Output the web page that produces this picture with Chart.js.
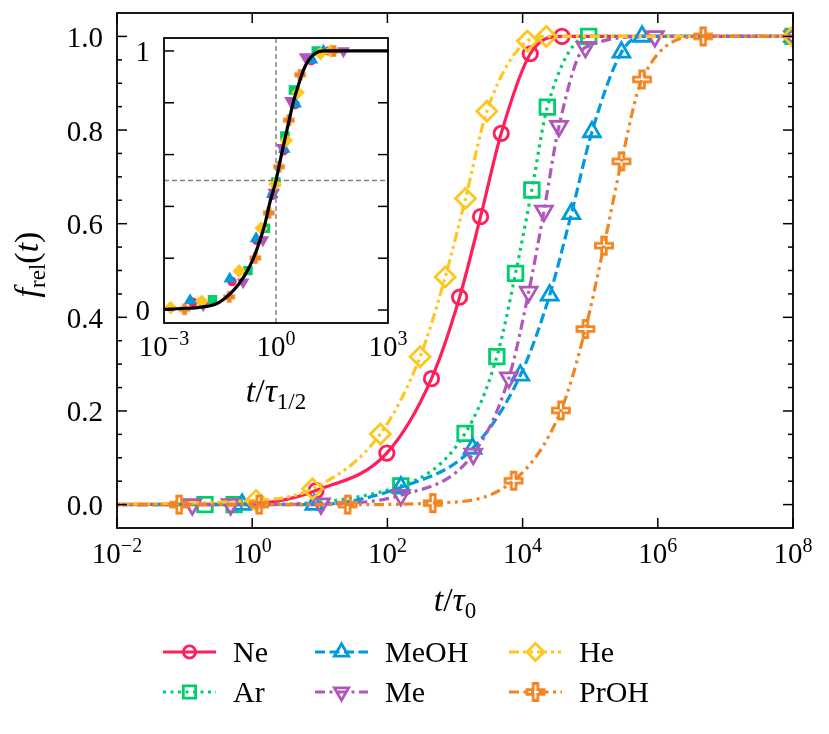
<!DOCTYPE html>
<html>
<head>
<meta charset="utf-8">
<script src="https://cdn.jsdelivr.net/npm/chart.js@4.4.1/dist/chart.umd.min.js"></script>
<style>
  html, body { margin: 0; padding: 0; background: #fff; }
  #wrap { position: relative; width: 829px; height: 734px; }
  #main { position: absolute; left: 0; top: 0; }
  #inset { position: absolute; left: 100px; top: 20px; }
</style>
</head>
<body>
<div id="wrap">
  <canvas id="main" width="829" height="734"></canvas>
  <canvas id="inset" width="310" height="410"></canvas>
</div>
<script>
// ---- data: t/tau_0 and f_rel(t) per system ----
const NE_T = [8.8, 98, 449, 1170, 2390, 4830, 13000, 38200, 1e8];
const NE_F = [0.03, 0.11, 0.269, 0.443, 0.615, 0.793, 0.963, 1.0, 1.0];

const AR_T = [0.2, 0.54, 158, 1410, 4160, 7870, 13700, 23200, 95100, 1e8];
const AR_F = [0.0, 0.0, 0.04, 0.152, 0.316, 0.494, 0.672, 0.849, 1.0, 1.0];

const MEOH_T = [0.71, 8.3, 158, 1820, 9250, 25100, 52600, 106000, 290000, 585000, 1e8];
const MEOH_F = [0.0, 0.0, 0.037, 0.12, 0.276, 0.447, 0.621, 0.796, 0.966, 1.0, 1.0];

const ME_T = [0.13, 0.48, 10.4, 158, 1860, 6270, 12300, 20700, 34500, 84900, 904000, 1e8];
const ME_F = [0.0, 0.0, 0.002, 0.02, 0.108, 0.271, 0.454, 0.627, 0.808, 0.977, 1.0, 1.0];

const HE_T = [1.14, 7.8, 78.7, 305, 716, 1430, 2960, 11750, 22400, 1e8];
const HE_F = [0.009, 0.034, 0.151, 0.316, 0.486, 0.654, 0.84, 0.99, 1.0, 1.0];

const PROH_T = [0.083, 1.27, 25.8, 469, 7360, 36900, 84900, 160000, 290000, 585000, 4690000];
const PROH_F = [0.0, 0.0, 0.0, 0.003, 0.051, 0.201, 0.375, 0.553, 0.733, 0.908, 1.0];

// extra points on the Ne fit curve where no marker is drawn
const NE_CURVE_T = [0.5, 2.5];
const NE_CURVE_F = [0.001, 0.008];

// half-times used for the inset rescaling (t at f = 0.5)
const TAU_HALF = [1480, 7940, 31600, 14100, 759, 132000];

// master curve in the inset
const MASTER_X = [0.001, 0.003, 0.01, 0.03, 0.1, 0.2, 0.3, 0.5, 0.7, 1, 1.4, 2, 3, 4, 6, 10, 20, 1000];
const MASTER_F = [0.003, 0.006, 0.011, 0.03, 0.1, 0.17, 0.23, 0.33, 0.42, 0.5, 0.6, 0.7, 0.81, 0.87, 0.94, 0.985, 1.0, 1.0];

const LABELS = ['Ne', 'Ar', 'MeOH', 'Me', 'He', 'PrOH'];
const T_ALL = [NE_T, AR_T, MEOH_T, ME_T, HE_T, PROH_T];
const F_ALL = [NE_F, AR_F, MEOH_F, ME_F, HE_F, PROH_F];
const CURVE_T = [NE_CURVE_T, [], [], [], [], []];
const CURVE_F = [NE_CURVE_F, [], [], [], [], []];

const X_TICKS = [1e-2, 1, 1e2, 1e4, 1e6, 1e8];
const INSET_X_TICKS = [1e-3, 1, 1e3];

// ---- styles ----
const COLORS = ['#FF1F5B', '#00CD6C', '#009ADE', '#AF58BA', '#FFC61E', '#F28522'];
const DASHES = [[], [3, 4.5], [10, 4.5], [10, 4.5, 3, 4.5], [10, 4, 3, 4, 3, 4], [10, 4.5, 3, 4.5, 3, 4.5]];
const FAM = '"Liberation Serif", "DejaVu Serif", serif';
const fnt = (px, st) => (st ? st + ' ' : '') + px + 'px ' + FAM;

function plusMarker(color, a, b, lw, fill) {
    const s = 2 * Math.ceil(b + lw) + 2;
    const c = document.createElement('canvas');
    c.width = s; c.height = s;
    const g = c.getContext('2d');
    const m = s / 2;
    g.beginPath();
    g.moveTo(m - a, m - b); g.lineTo(m + a, m - b); g.lineTo(m + a, m - a); g.lineTo(m + b, m - a);
    g.lineTo(m + b, m + a); g.lineTo(m + a, m + a); g.lineTo(m + a, m + b); g.lineTo(m - a, m + b);
    g.lineTo(m - a, m + a); g.lineTo(m - b, m + a); g.lineTo(m - b, m - a); g.lineTo(m - a, m - a);
    g.closePath();
    if (fill) { g.fillStyle = color; g.fill(); }
    g.strokeStyle = color; g.lineWidth = lw; g.stroke();
    return c;
}

const MARKERS = [
    { style: 'circle', r: 7.2, rot: 0 },
    { style: 'rect', r: 10.3, rot: 0 },
    { style: 'triangle', r: 9.7, rot: 0 },
    { style: 'triangle', r: 9.7, rot: 180 },
    { style: 'rectRot', r: 10, rot: 0 },
    { style: plusMarker(COLORS[5], 2.3, 8.5, 2.8, false), r: 9, rot: 0 }
];
const SMALL_MARKERS = [
    { style: 'circle', r: 4, rot: 0 },
    { style: 'rect', r: 5.6, rot: 0 },
    { style: 'triangle', r: 5.8, rot: 0 },
    { style: 'triangle', r: 5.8, rot: 180 },
    { style: 'rectRot', r: 5.8, rot: 0 },
    { style: plusMarker(COLORS[5], 1.7, 5, 1.5, true), r: 5, rot: 0 }
];

function richText(ctx, parts, x, y) {
    ctx.textAlign = 'left';
    ctx.textBaseline = 'alphabetic';
    let w = 0;
    parts.forEach(p => { ctx.font = p[1]; w += ctx.measureText(p[0]).width; });
    let cx = x - w / 2;
    parts.forEach(p => {
        ctx.font = p[1];
        ctx.fillText(p[0], cx, y + (p[2] || 0));
        cx += ctx.measureText(p[0]).width;
    });
}

function powLabel(ctx, v, x, y) {
    const e = Math.round(Math.log10(v));
    const exp = e < 0 ? '\u2212' + (-e) : String(e);
    richText(ctx, [['10', fnt(29)], [exp, fnt(20), -11]], x, y);
}

function tick(ctx, x1, y1, x2, y2) {
    ctx.beginPath(); ctx.moveTo(x1, y1); ctx.lineTo(x2, y2); ctx.stroke();
}

// ---- main axes, labels and legend ----
const mainDecor = {
    id: 'mainDecor',
    afterDraw(chart) {
        const { ctx, chartArea: a, scales: { x, y } } = chart;
        ctx.save();
        ctx.strokeStyle = '#000';
        ctx.fillStyle = '#000';
        ctx.lineWidth = 1.8;
        ctx.strokeRect(a.left, a.top, a.right - a.left, a.bottom - a.top);
        ctx.lineWidth = 1.5;

        X_TICKS.forEach(v => {
            const px = x.getPixelForValue(v);
            tick(ctx, px, a.bottom, px, a.bottom - 10);
            tick(ctx, px, a.top, px, a.top + 10);
            powLabel(ctx, v, px, a.bottom + 35);
        });

        for (let k = 0; k <= 20; k++) {
            const v = k * 0.05;
            const py = y.getPixelForValue(v);
            const len = k % 4 === 0 ? 10 : 5;
            tick(ctx, a.left, py, a.left + len, py);
            tick(ctx, a.right, py, a.right - len, py);
            if (k % 4 === 0) {
                ctx.font = fnt(29);
                ctx.textAlign = 'right';
                ctx.textBaseline = 'alphabetic';
                ctx.fillText(v.toFixed(1), a.left - 14, py + 10.5);
            }
        }

        // axis titles
        richText(ctx, [['t', fnt(34, 'italic')], ['/', fnt(34)], ['\u03C4', fnt(34, 'italic')], ['0', fnt(23), 7]],
            (a.left + a.right) / 2, 611);
        ctx.save();
        ctx.translate(38, (a.top + a.bottom) / 2 - 6);
        ctx.rotate(-Math.PI / 2);
        richText(ctx, [['f', fnt(34, 'italic')], ['rel', fnt(23), 7], ['(', fnt(34)], ['t', fnt(34, 'italic')], [')', fnt(34)]], 0, 0);
        ctx.restore();

        // legend, three columns by two rows
        const cols = [163, 315, 509];
        const rows = [652, 692];
        LABELS.forEach((lab, i) => {
            const x0 = cols[Math.floor(i / 2)];
            const y0 = rows[i % 2];
            ctx.strokeStyle = COLORS[i];
            ctx.lineWidth = 3;
            ctx.setLineDash(DASHES[i]);
            tick(ctx, x0, y0, x0 + 53, y0);
            ctx.setLineDash([]);
            ctx.lineWidth = 2.8;
            ctx.fillStyle = 'rgba(0,0,0,0)';
            const m = MARKERS[i];
            Chart.helpers.drawPoint(ctx, { pointStyle: m.style, radius: m.r * 0.85, rotation: m.rot, borderWidth: 2.8 }, x0 + 26.5, y0);
            ctx.fillStyle = '#000';
            ctx.font = fnt(30);
            ctx.textAlign = 'left';
            ctx.textBaseline = 'alphabetic';
            ctx.fillText(lab, x0 + 70, y0 + 10);
        });
        ctx.restore();
    }
};

const mainDatasets = LABELS.map((lab, i) => {
    const pts = T_ALL[i].map((t, k) => ({ x: t, y: F_ALL[i][k] }))
        .concat(CURVE_T[i].map((t, k) => ({ x: t, y: CURVE_F[i][k], hide: true })))
        .concat([{ x: 1e-3, y: 0, hide: true }, { x: 1e9, y: 1, hide: true }])
        .sort((p, q) => p.x - q.x);
    return {
        label: lab,
        data: pts,
        borderColor: COLORS[i],
        backgroundColor: 'rgba(0,0,0,0)',
        borderWidth: 3.2,
        borderDash: DASHES[i],
        pointStyle: MARKERS[i].style,
        pointRadius: c => (c.raw && c.raw.hide ? 0 : MARKERS[i].r),
        pointRotation: MARKERS[i].rot,
        pointBorderWidth: 2.8,
        pointBorderColor: COLORS[i],
        pointBackgroundColor: 'rgba(0,0,0,0)',
        cubicInterpolationMode: 'monotone',
        fill: false,
        order: LABELS.length - i
    };
});

new Chart(document.getElementById('main'), {
    type: 'line',
    data: { datasets: mainDatasets },
    options: {
        responsive: false,
        animation: false,
        events: [],
        layout: { padding: { left: 117, right: 36, top: 13, bottom: 206 } },
        plugins: { legend: { display: false }, tooltip: { enabled: false } },
        scales: {
            x: { type: 'logarithmic', min: 1e-2, max: 1e8, display: false },
            y: { type: 'linear', min: -0.05, max: 1.05, display: false }
        }
    },
    plugins: [mainDecor]
});

// ---- inset ----
const insetDecor = {
    id: 'insetDecor',
    beforeDraw(chart) {
        const { ctx, chartArea: a } = chart;
        ctx.save();
        ctx.fillStyle = '#fff';
        ctx.fillRect(a.left, a.top, a.right - a.left, a.bottom - a.top);
        ctx.restore();
    },
    beforeDatasetDraw(chart, args) {
        if (args.index !== LABELS.length) return;
        const { ctx, chartArea: a, scales: { x, y } } = chart;
        ctx.save();
        ctx.strokeStyle = '#808080';
        ctx.lineWidth = 1.4;
        ctx.setLineDash([5, 3]);
        const px = x.getPixelForValue(1);
        const py = y.getPixelForValue(0.5);
        tick(ctx, px, a.top, px, a.bottom);
        tick(ctx, a.left, py, a.right, py);
        ctx.restore();
    },
    afterDraw(chart) {
        const { ctx, chartArea: a, scales: { x, y } } = chart;
        ctx.save();
        ctx.strokeStyle = '#000';
        ctx.fillStyle = '#000';
        ctx.lineWidth = 1.8;
        ctx.strokeRect(a.left, a.top, a.right - a.left, a.bottom - a.top);
        ctx.lineWidth = 1.5;
        for (let k = 0; k <= 5; k++) {
            const v = k * 0.2;
            const py = y.getPixelForValue(v);
            tick(ctx, a.left, py, a.left + 10, py);
            tick(ctx, a.right, py, a.right - 10, py);
        }
        ctx.font = fnt(29);
        ctx.textAlign = 'right';
        ctx.textBaseline = 'alphabetic';
        ctx.fillText('1', a.left - 14, y.getPixelForValue(1) + 10);
        ctx.fillText('0', a.left - 14, y.getPixelForValue(0) + 10);
        INSET_X_TICKS.forEach(v => powLabel(ctx, v, x.getPixelForValue(v), a.bottom + 33));
        richText(ctx, [['t', fnt(34, 'italic')], ['/', fnt(34)], ['\u03C4', fnt(34, 'italic')], ['1/2', fnt(23), 7]],
            (a.left + a.right) / 2, a.bottom + 79);
        ctx.restore();
    }
};

const insetDatasets = LABELS.map((lab, i) => ({
    label: lab,
    data: T_ALL[i].map((t, k) => ({ x: t / TAU_HALF[i], y: F_ALL[i][k] })),
    showLine: false,
    pointStyle: SMALL_MARKERS[i].style,
    pointRadius: SMALL_MARKERS[i].r,
    pointRotation: SMALL_MARKERS[i].rot,
    pointBorderWidth: 1.5,
    pointBorderColor: COLORS[i],
    pointBackgroundColor: COLORS[i],
    order: LABELS.length + 1 - i
}));
insetDatasets.push({
    label: 'master',
    data: MASTER_X.map((v, k) => ({ x: v, y: MASTER_F[k] })),
    borderColor: '#000',
    borderWidth: 3.2,
    pointRadius: 0,
    cubicInterpolationMode: 'monotone',
    fill: false,
    order: 0
});

new Chart(document.getElementById('inset'), {
    type: 'line',
    data: { datasets: insetDatasets },
    options: {
        responsive: false,
        animation: false,
        events: [],
        layout: { padding: { left: 64, right: 22, top: 18, bottom: 107 } },
        plugins: { legend: { display: false }, tooltip: { enabled: false } },
        scales: {
            x: { type: 'logarithmic', min: 1e-3, max: 1e3, display: false },
            y: { type: 'linear', min: -0.05, max: 1.05, display: false }
        }
    },
    plugins: [insetDecor]
});
</script>
</body>
</html>
